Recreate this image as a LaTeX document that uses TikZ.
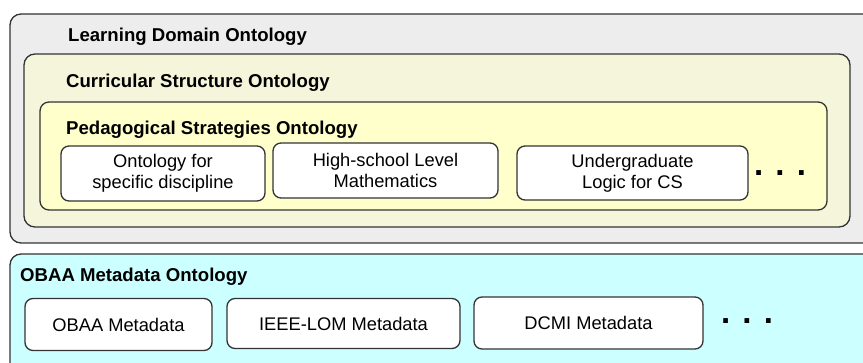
\documentclass[tikz,border=0pt]{standalone}
\usepackage{fontspec}
\setmainfont{Liberation Sans}
\begin{document}
\begin{tikzpicture}[x=1pt,y=-1pt,
  frame/.style={draw=black!80, line width=1.3pt, rounded corners=11pt, inner sep=0pt},
  item/.style={draw=black!80, line width=1.3pt, rounded corners=8pt, fill=white, inner sep=0pt,
    align=center, font=\fontsize{18.3}{21}\selectfont},
  ttl/.style={anchor=base west, inner sep=0pt, font=\fontsize{18.6}{21}\selectfont\bfseries},
  dots/.style={anchor=base, inner sep=0pt, font=\fontsize{33}{33}\selectfont\bfseries}]
\useasboundingbox (0,0) rectangle (863,363);
\clip (0,0) rectangle (863,363);
\fill[white] (0,0) rectangle (863,363);
% outer frames
\node[frame, fill={rgb,255:red,237;green,237;blue,237}, minimum width=870pt, minimum height=229pt] (ldo) at (445,128.5) {};
\node[frame, fill={rgb,255:red,245;green,245;blue,220}, minimum width=826pt, minimum height=173pt] (cso) at (437,140.5) {};
\node[frame, fill={rgb,255:red,255;green,255;blue,204}, rounded corners=9pt, minimum width=787pt, minimum height=108pt] (pso) at (433.5,156) {};
\node[frame, fill={rgb,255:red,204;green,255;blue,255}, minimum width=870pt, minimum height=130pt] (obo) at (445,319) {};
% titles
\node[ttl] (t1) at (68,42) {Learning Domain Ontology};
\node[ttl] (t2) at (66,88) {Curricular Structure Ontology};
\node[ttl] (t3) at (66,135) {Pedagogical Strategies Ontology};
\node[ttl] (t4) at (20,282) {OBAA Metadata Ontology};
% inner items
\node[item, minimum width=204pt, minimum height=55pt] (a) at (163,173.5) {Ontology for\\specific discipline};
\node[item, minimum width=225pt, minimum height=55pt] (b) at (385.5,170.5) {High-school Level\\Mathematics};
\node[item, minimum width=231pt, minimum height=54pt] (c) at (632.5,173) {Undergraduate\\Logic for CS};
\node[dots] (d1) at (780,175.5) {. . .};
\node[item, minimum width=187pt, minimum height=52pt] (d) at (118.5,324.5) {OBAA Metadata};
\node[item, minimum width=233pt, minimum height=50pt] (e) at (343.5,323.5) {IEEE-LOM Metadata};
\node[item, minimum width=229pt, minimum height=52pt] (f) at (588.5,323) {DCMI Metadata};
\node[dots] (d2) at (747,323.5) {. . .};
\end{tikzpicture}
\end{document}
